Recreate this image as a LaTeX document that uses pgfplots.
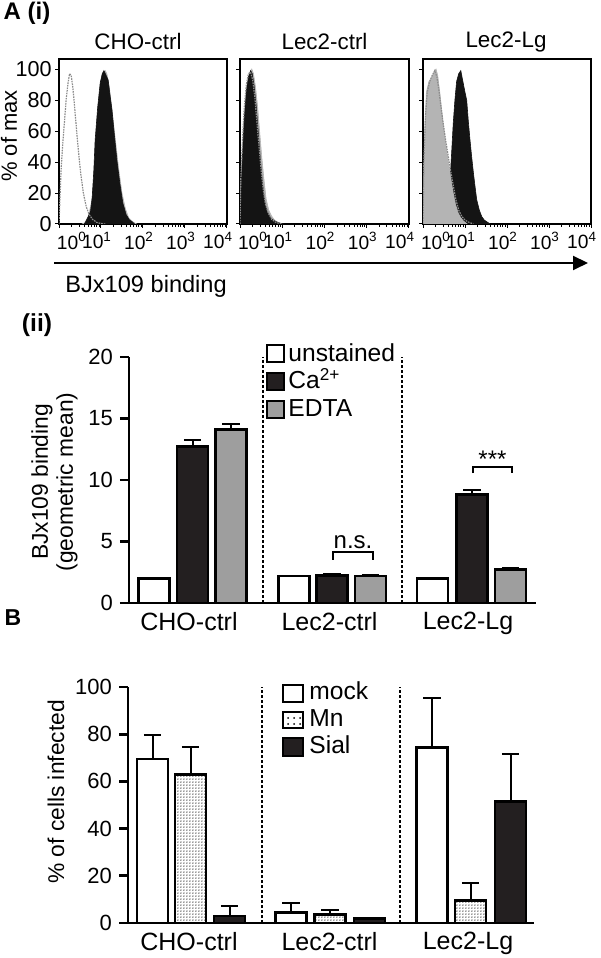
\documentclass[border=0pt]{standalone}
\usepackage{fontspec}
\setmainfont{Liberation Sans}
\usepackage{pgfplots}
\pgfplotsset{compat=1.18}
\usetikzlibrary{arrows.meta,patterns}
\definecolor{hblack}{HTML}{141414}
\definecolor{hgray}{HTML}{B4B4B4}
\definecolor{bblack}{HTML}{231F20}
\definecolor{bgray}{HTML}{9E9E9E}
\definecolor{ulin}{HTML}{8C8C8C}
\newcommand\fs[1]{\fontsize{#1}{12.5}\selectfont}
\pgfdeclarepatternformonly{finedots}{\pgfqpoint{-0.6pt}{-0.6pt}}{\pgfqpoint{1pt}{1pt}}{\pgfqpoint{1.6pt}{1.6pt}}{\pgfpathcircle{\pgfqpoint{0pt}{0pt}}{0.45pt}\pgfusepath{fill}}
\tikzset{vdot/.style={line width=0.75pt, dash pattern=on 1.5pt off 1pt}}
\pgfplotsset{
  hist/.style={scale only axis, width=84pt, height=82.5pt,
    xmin=0, xmax=4, ymin=0, ymax=106.5,
    axis line style={line width=1.2pt},
    tick align=outside, xtick pos=bottom, ytick pos=left,
    xtick={0,1,2,3,4},
    xticklabels={\hspace*{2pt}\rlap{10\textsuperscript{0}},10\textsuperscript{1},10\textsuperscript{2},10\textsuperscript{3},\hspace*{10pt}\llap{10\textsuperscript{4}}},
    minor xtick={0.301,0.477,0.602,0.699,0.778,0.845,0.903,0.954,1.301,1.477,1.602,1.699,1.778,1.845,1.903,1.954,2.301,2.477,2.602,2.699,2.778,2.845,2.903,2.954,3.301,3.477,3.602,3.699,3.778,3.845,3.903,3.954},
    ytick={0,20,40,60,80,100},
    major tick length=2pt, minor tick length=1.3pt,
    tick style={line width=0.5pt, black},
    yticklabel style={font=\fs{10.8}, inner xsep=1.5pt},
    xticklabel style={font=\fs{9.6}, inner ysep=2pt, xshift=-2pt},
    /pgf/number format/assume math mode=true,
  },
  unst/.style={draw=ulin, line width=0.6pt, dash pattern=on 0.8pt off 0.5pt},
  bars/.style={scale only axis, axis lines=left,
    axis line style={line width=1.4pt, -},
    tick align=outside, major tick length=4.5pt,
    ytick style={line width=1.4pt, black},
    xtick style={draw=none},
    yticklabel style={font=\fs{11}},
    xticklabel style={font=\fs{12.5}, yshift=3.5pt},
    xtick={189,329.5,468},
    xticklabels={CHO-ctrl,Lec2-ctrl,Lec2-Lg},
    /pgf/number format/assume math mode=true, clip=false,
  },
  bar/.style={ybar, bar width=31, bar shift=0pt, line width=1.4pt, draw=black,
    error bars/y dir=plus, error bars/y explicit,
    error bars/error bar style={line width=1pt, black},
    error bars/error mark options={rotate=90, line width=1pt, mark size=4.3pt, black}},
}
\begin{document}
\begin{tikzpicture}
\useasboundingbox (0,0) rectangle (300pt,479pt);
% ---------- A(i) histograms ----------
\begin{axis}[hist, at={(29.5pt,367pt)}, anchor=south west]
\addplot[fill=hgray, draw=hgray, line width=0.3pt] coordinates {(0.55,0)(0.62,1)(0.7,5)(0.78,15)(0.86,35)(0.94,62)(1.0,82)(1.06,95)(1.1,99)(1.14,97)(1.2,88)(1.27,72)(1.34,55)(1.42,36)(1.5,20)(1.58,10)(1.66,4)(1.75,1.5)(1.85,0)} \closedcycle;
\addplot[fill=hblack, draw=hblack, line width=0.3pt] coordinates {(0.6,0)(0.62,0.6)(0.69,4.5)(0.75,8)(0.79,17)(0.83,35)(0.86,54)(0.92,75)(0.98,91)(1.03,97)(1.07,99)(1.12,96)(1.17,93)(1.22,82)(1.26,74)(1.32,57)(1.38,41)(1.45,26)(1.52,13.5)(1.6,6)(1.68,2.5)(1.74,1.5)(1.8,0)} \closedcycle;
\addplot[unst] coordinates {(0,0)(0.02,15)(0.05,35)(0.09,52)(0.13,66)(0.17,80)(0.21,90)(0.25,97)(0.29,96)(0.33,88)(0.37,76)(0.42,60)(0.47,45)(0.52,32)(0.58,20)(0.65,11)(0.72,6)(0.8,3)(0.9,1)(1.0,0.3)(1.1,0)};
\end{axis}
\begin{axis}[hist, at={(120pt,367pt)}, anchor=south west, width=84.5pt, yticklabels={}]
\addplot[fill=hgray, draw=hgray, line width=0.3pt] coordinates {(0,0)(0.02,25)(0.06,50)(0.11,72)(0.16,88)(0.22,96)(0.28,100)(0.32,97)(0.37,88)(0.42,75)(0.47,58)(0.52,42)(0.57,28)(0.62,16)(0.68,9)(0.75,5)(0.82,2.5)(0.9,1)(1.0,0)} \closedcycle;
\addplot[fill=hblack, draw=hblack, line width=0.3pt] coordinates {(0,0)(0.02,20)(0.06,45)(0.1,68)(0.15,86)(0.2,95)(0.25,99)(0.29,97)(0.33,90)(0.38,77)(0.43,60)(0.48,42)(0.53,27)(0.58,15)(0.64,8)(0.7,5)(0.76,3)(0.85,1.5)(0.95,0.5)(1.05,0)} \closedcycle;
\addplot[unst] coordinates {(0,0)(0.02,30)(0.06,55)(0.1,75)(0.15,90)(0.2,97)(0.25,98)(0.3,93)(0.35,82)(0.4,66)(0.45,50)(0.5,35)(0.55,22)(0.6,13)(0.67,7)(0.75,3)(0.85,1)(1.0,0)};
\end{axis}
\begin{axis}[hist, at={(211.5pt,367pt)}, anchor=south west, yticklabels={}]
\addplot[fill=hblack, draw=hblack, line width=0.3pt] coordinates {(0.6,0)(0.63,3)(0.64,27)(0.68,45)(0.72,65)(0.76,80)(0.8,92)(0.85,97)(0.9,99)(0.95,92)(1.0,85)(1.04,80)(1.08,66)(1.12,54)(1.16,43)(1.2,33)(1.24,24)(1.28,15.5)(1.34,9)(1.4,4.7)(1.46,2.5)(1.52,1.4)(1.6,0)} \closedcycle;
\addplot[fill=hgray, draw=hgray, line width=0.3pt] coordinates {(0,0)(0.01,20)(0.04,60)(0.08,85)(0.14,92)(0.2,94)(0.26,98)(0.31,100)(0.35,96)(0.4,85)(0.44,75)(0.48,65)(0.54,52)(0.6,41)(0.66,30)(0.72,20)(0.78,12)(0.84,7)(0.9,4)(0.96,2)(1.05,0)} \closedcycle;
\addplot[unst] coordinates {(0,0)(0.02,40)(0.06,70)(0.1,85)(0.16,92)(0.22,96)(0.28,99)(0.33,95)(0.38,86)(0.43,75)(0.48,65)(0.54,54)(0.6,44)(0.66,34)(0.72,25)(0.78,16)(0.85,9)(0.92,5)(1.0,2.5)(1.1,1)(1.2,0)};
\end{axis}
% ---------- A(ii) bars ----------
\begin{axis}[bars, at={(64.5pt,177.5pt)}, anchor=south west, width=203.5pt, height=123pt,
  xmin=129, xmax=536, ymin=0, ymax=20, ytick={0,5,10,15,20}]
\addplot[fill=white, bar] coordinates {(154,2.0)+-(0,0) (294,2.2)+-(0,0) (432.5,2.0)+-(0,0)};
\addplot[fill=bblack, bar] coordinates {(192.5,12.75)+-(0,0.5) (332,2.25)+-(0,0.1) (472,8.8)+-(0,0.4)};
\addplot[fill=bgray, bar] coordinates {(231,14.1)+-(0,0.45) (370.5,2.2)+-(0,0.1) (510.5,2.75)+-(0,0.1)};
\draw[vdot] (axis cs:263,0) -- (axis cs:263,20);
\draw[vdot] (axis cs:402,0) -- (axis cs:402,20);
\draw[line width=0.9pt] (axis cs:333,3.5) -- (axis cs:333,4.15) -- (axis cs:373,4.15) -- (axis cs:373,3.5);
\node[anchor=base, inner sep=0, font=\fs{12}] at (axis cs:353,4.47) {n.s.};
\draw[line width=0.9pt] (axis cs:473,10.55) -- (axis cs:473,11.05) -- (axis cs:512,11.05) -- (axis cs:512,10.55);
\node[anchor=base, inner sep=0, font=\fs{12}] at (axis cs:492.5,10.98) {***};
\end{axis}
% ---------- B bars ----------
\begin{axis}[bars, at={(64pt,17.5pt)}, anchor=south west, width=203pt, height=118pt,
  xmin=128, xmax=534, ymin=0, ymax=100, ytick={0,20,40,60,80,100}]
\addplot[fill=white, bar] coordinates {(152.5,69.5)+-(0,10) (291,4.3)+-(0,4) (432,74.5)+-(0,21)};
\addplot[fill=white, postaction={pattern=finedots, pattern color=black!80}, bar] coordinates {(190.5,63)+-(0,11.7) (330,3.5)+-(0,1.8) (470.5,9.5)+-(0,7.5)};
\addplot[fill=bblack, bar] coordinates {(229.5,3)+-(0,4) (369.5,2)+-(0,0) (510.5,51.5)+-(0,20)};
\draw[vdot] (axis cs:262,0) -- (axis cs:262,100);
\draw[vdot] (axis cs:400,0) -- (axis cs:400,100);
\end{axis}
% ---------- texts and legends in pixel coordinates ----------
\begin{scope}[x=0.5pt, y=-0.5pt, shift={(0pt,479pt)}]
\node[font=\bfseries\fs{12}, inner sep=0] at (27,13) {A (i)};
\node[font=\fs{11.2}, inner sep=0] at (138,42) {CHO-ctrl};
\node[font=\fs{11.2}, inner sep=0] at (324.5,42) {Lec2-ctrl};
\node[font=\fs{11.2}, inner sep=0] at (506,42) {Lec2-Lg};
\node[font=\fs{11}, inner sep=0, rotate=90] at (9,136) {\% of max};
\draw[line width=1pt, -{Triangle[length=7.5pt, width=7pt]}] (54,263) -- (588,263);
\node[font=\fs{11.8}, inner sep=0, anchor=base west] at (65,293) {BJx109 binding};
\node[font=\bfseries\fs{12.3}, inner sep=0] at (37,325) {(ii)};
\node[font=\fs{11.4}, inner sep=0, rotate=90, align=center] at (54.5,482) {BJx109 binding\\(geometric mean)};
\draw[line width=1.2pt, fill=white] (267,345) rectangle (284,362);
\draw[line width=1.2pt, fill=bblack] (267,373) rectangle (284,390);
\draw[line width=1.2pt, fill=bgray] (267,401) rectangle (284,418);
\node[font=\fs{12.3}, inner sep=0, anchor=base west] at (288,362) {unstained};
\node[font=\fs{12.3}, inner sep=0, anchor=base west] at (288,389) {Ca\textsuperscript{2+}};
\node[font=\fs{12.3}, inner sep=0, anchor=base west] at (288,417) {EDTA};
\node[font=\bfseries\fs{11.5}, inner sep=0] at (13,618) {B};
\node[font=\fs{11.4}, inner sep=0, rotate=90] at (56,792) {\% of cells infected};
\draw[line width=1.2pt, fill=white] (283,685) rectangle (303,702);
\draw[line width=1.2pt, fill=white, postaction={pattern=dots, pattern color=black}] (283,712) rectangle (303,728);
\draw[line width=1.2pt, fill=bblack] (283,738) rectangle (303,756);
\node[font=\fs{12.3}, inner sep=0, anchor=base west] at (309,700) {mock};
\node[font=\fs{12.3}, inner sep=0, anchor=base west] at (309,727) {Mn};
\node[font=\fs{12.3}, inner sep=0, anchor=base west] at (309,754) {Sial};
\end{scope}
\end{tikzpicture}
\end{document}
